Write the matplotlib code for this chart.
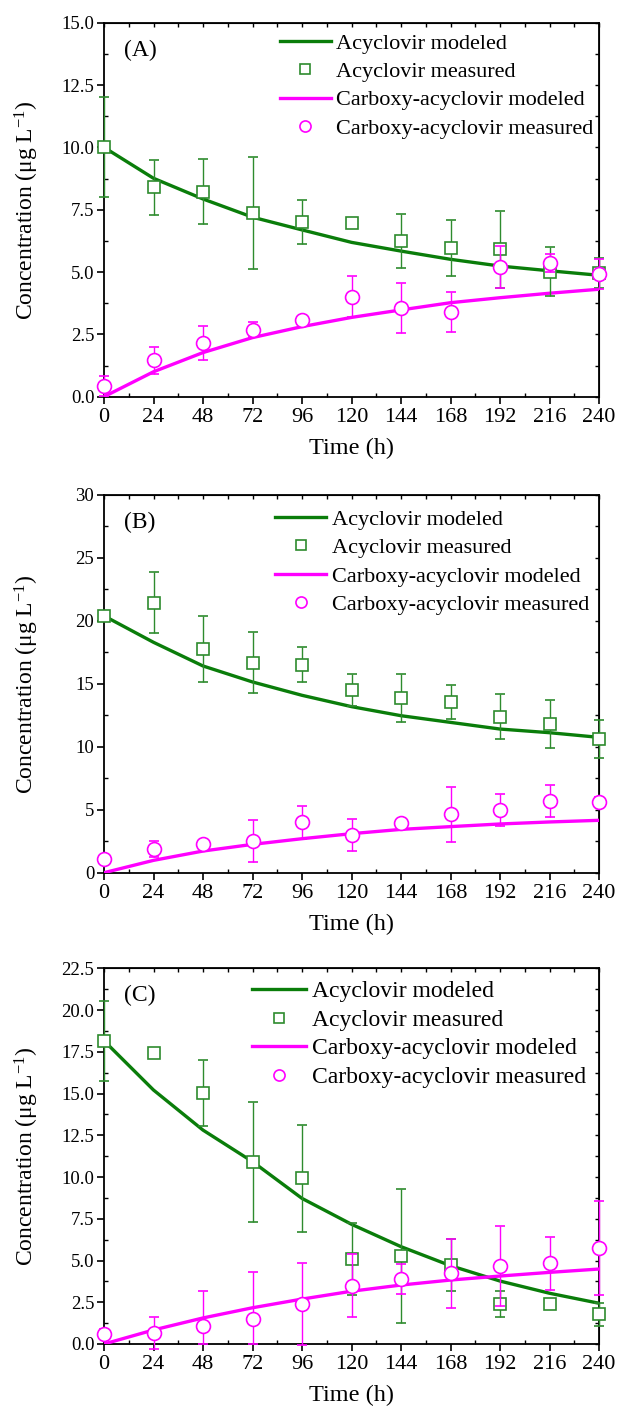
import numpy as np
import matplotlib
matplotlib.use("Agg")
import matplotlib.pyplot as plt
from matplotlib.lines import Line2D
from matplotlib.ticker import MultipleLocator, FormatStrFormatter

# === DATA ===
time_h = [0, 24, 48, 72, 96, 120, 144, 168, 192, 216, 240]

# Panel A
a_acy_meas = [10.0, 8.4, 8.22, 7.38, 7.02, 6.98, 6.26, 5.95, 5.91, 5.01, 4.95]
a_acy_err = [2.0, 1.1, 1.3, 2.24, 0.88, 0.15, 1.08, 1.12, 1.54, 0.98, 0.6]
a_acy_model = [10.0, 8.76, 7.93, 7.2, 6.69, 6.19, 5.84, 5.51, 5.24, 5.05, 4.87]
a_car_meas = [0.44, 1.46, 2.15, 2.68, 3.06, 4.01, 3.57, 3.39, 5.21, 5.37, 4.92]
a_car_err = [0.4, 0.55, 0.67, 0.3, 0.15, 0.82, 1.0, 0.8, 0.85, 0.35, 0.6]
a_car_model = [0.0, 1.0, 1.77, 2.37, 2.81, 3.18, 3.48, 3.77, 3.97, 4.15, 4.31]

# Panel B
b_acy_meas = [20.41, 21.45, 17.77, 16.68, 16.52, 14.51, 13.9, 13.53, 12.39, 11.79, 10.64]
b_acy_err = [0.3, 2.4, 2.6, 2.4, 1.4, 1.3, 1.9, 1.35, 1.8, 1.9, 1.5]
b_acy_model = [20.4, 18.3, 16.42, 15.15, 14.09, 13.19, 12.47, 11.94, 11.41, 11.12, 10.75]
b_car_meas = [1.06, 1.88, 2.25, 2.52, 4.0, 2.99, 3.97, 4.64, 4.98, 5.69, 5.59]
b_car_err = [0.3, 0.6, 0.2, 1.7, 1.33, 1.3, 0.2, 2.17, 1.3, 1.27, 0.4]
b_car_model = [0.0, 0.98, 1.72, 2.25, 2.7, 3.1, 3.44, 3.66, 3.87, 4.03, 4.16]

# Panel C
c_acy_meas = [18.16, 17.41, 15.03, 10.88, 9.92, 5.09, 5.27, 4.73, 2.4, 2.38, 1.78]
c_acy_err = [2.4, 0.2, 2.0, 3.6, 3.2, 2.17, 4.0, 1.58, 0.78, 0.3, 0.7]
c_acy_model = [18.16, 15.21, 12.81, 10.92, 8.72, 7.17, 5.83, 4.69, 3.77, 3.04, 2.44]
c_car_meas = [0.58, 0.64, 1.1, 1.5, 2.4, 3.49, 3.89, 4.23, 4.65, 4.83, 5.75]
c_car_err = [0.3, 0.95, 2.06, 2.8, 2.45, 1.9, 0.9, 2.05, 2.4, 1.6, 2.8]
c_car_err_lo = [0.3, 0.95, 1.1, 1.5, 2.45, 1.9, 0.9, 2.05, 2.4, 1.6, 2.8]
c_car_model = [0.0, 0.84, 1.56, 2.17, 2.69, 3.16, 3.53, 3.83, 4.07, 4.29, 4.49]

panel_labels = ["(A)", "(B)", "(C)"]
y_max = [15.0, 30.0, 22.5]
y_step = [2.5, 5.0, 2.5]
y_fmt = ["%.1f", "%d", "%.1f"]

legend_labels = ["Acyclovir modeled", "Acyclovir measured",
                 "Carboxy-acyclovir modeled", "Carboxy-acyclovir measured"]

panels = [
    (a_acy_meas, a_acy_err, a_acy_err, a_acy_model, a_car_meas, a_car_err, a_car_err, a_car_model),
    (b_acy_meas, b_acy_err, b_acy_err, b_acy_model, b_car_meas, b_car_err, b_car_err, b_car_model),
    (c_acy_meas, c_acy_err, c_acy_err, c_acy_model, c_car_meas, c_car_err_lo, c_car_err, c_car_model),
]

# legend placement / size per panel
leg_anchor = [(0.355, 0.972), (0.346, 0.962), (0.299, 0.967)]
leg_size = [16, 16, 17]
leg_spacing = [0.35, 0.35, 0.3]

GREEN = "#0a7d0a"
GREEN_M = "#2e8b2e"
MAGENTA = "#ff00ff"

plt.rcParams["font.family"] = ["Liberation Serif", "DejaVu Serif"]
plt.rcParams["mathtext.fontset"] = "custom"
plt.rcParams["mathtext.rm"] = "Liberation Serif"
plt.rcParams["mathtext.it"] = "Liberation Serif:italic"

W, H = 623, 1416
fig = plt.figure(figsize=(W / 100, H / 100), dpi=100)

# axes boxes in pixels: (left, top, right, bottom)
boxes = [(104, 22.7, 599, 396.7), (104, 495, 599, 872.7), (104, 968.3, 599, 1344)]

for i, (box, data) in enumerate(zip(boxes, panels)):
    l, t, r, b = box
    ax = fig.add_axes([l / W, 1 - b / H, (r - l) / W, (b - t) / H])
    acy_m, acy_lo, acy_hi, acy_mod, car_m, car_lo, car_hi, car_mod = data

    ax.plot(time_h, acy_mod, color=GREEN, lw=2.4, zorder=3)
    ax.errorbar(time_h, acy_m, yerr=[acy_lo, acy_hi], fmt="s", ms=8.5, mfc="white",
                mec=GREEN_M, mew=1.2, ecolor=GREEN_M, elinewidth=1.0, capsize=3.5,
                capthick=1.0, zorder=4, clip_on=False)
    ax.plot(time_h, car_mod, color=MAGENTA, lw=2.4, zorder=3)
    ax.errorbar(time_h, car_m, yerr=[car_lo, car_hi], fmt="o", ms=10, mfc="white",
                mec=MAGENTA, mew=1.2, ecolor=MAGENTA, elinewidth=1.0, capsize=3.5,
                capthick=1.0, zorder=5, clip_on=False)

    ax.set_xlim(0, 240)
    ax.set_ylim(0, y_max[i])
    ax.xaxis.set_major_locator(MultipleLocator(24))
    ax.xaxis.set_minor_locator(MultipleLocator(12))
    ax.yaxis.set_major_locator(MultipleLocator(y_step[i]))
    ax.yaxis.set_minor_locator(MultipleLocator(y_step[i] / 2))
    ax.yaxis.set_major_formatter(FormatStrFormatter(y_fmt[i]))

    ax.tick_params(which="major", direction="out", length=5, width=1.2,
                   top=False, right=False)
    ax.tick_params(which="minor", direction="in", length=3, width=1.0,
                   top=False, right=False)
    ax.tick_params(axis="x", which="major", labelsize=16, pad=3)
    ax.tick_params(axis="y", which="major", labelsize=13.5, pad=2)
    for s in ax.spines.values():
        s.set_linewidth(1.3)

    # inward ticks on the top and right spines
    sec_x = ax.secondary_xaxis("top")
    sec_x.xaxis.set_major_locator(MultipleLocator(24))
    sec_x.xaxis.set_minor_locator(MultipleLocator(12))
    sec_x.tick_params(which="both", direction="in", length=3, width=1.0, labeltop=False)
    sec_y = ax.secondary_yaxis("right")
    sec_y.yaxis.set_major_locator(MultipleLocator(y_step[i]))
    sec_y.yaxis.set_minor_locator(MultipleLocator(y_step[i] / 2))
    sec_y.tick_params(which="both", direction="in", length=3, width=1.0, labelright=False)

    ax.set_xlabel("Time (h)", fontsize=17.5, labelpad=8)
    ax.set_ylabel("Concentration (μg L$^{-1}$)", fontsize=17)
    ax.yaxis.set_label_coords(-0.128, 0.5)

    ax.text(0.04, 0.955, panel_labels[i], transform=ax.transAxes, fontsize=17,
            va="top", ha="left")

    handles = [
        Line2D([], [], color=GREEN, lw=2.4),
        Line2D([], [], ls="none", marker="s", ms=7, mfc="white", mec=GREEN_M, mew=1.2),
        Line2D([], [], color=MAGENTA, lw=2.4),
        Line2D([], [], ls="none", marker="o", ms=8, mfc="white", mec=MAGENTA, mew=1.2),
    ]
    ax.legend(handles, legend_labels, loc="upper left", bbox_to_anchor=leg_anchor[i],
              frameon=False, fontsize=leg_size[i], handlelength=2.3, handletextpad=0.25,
              labelspacing=leg_spacing[i], borderpad=0, borderaxespad=0)

fig.savefig("out.png", dpi=100)
